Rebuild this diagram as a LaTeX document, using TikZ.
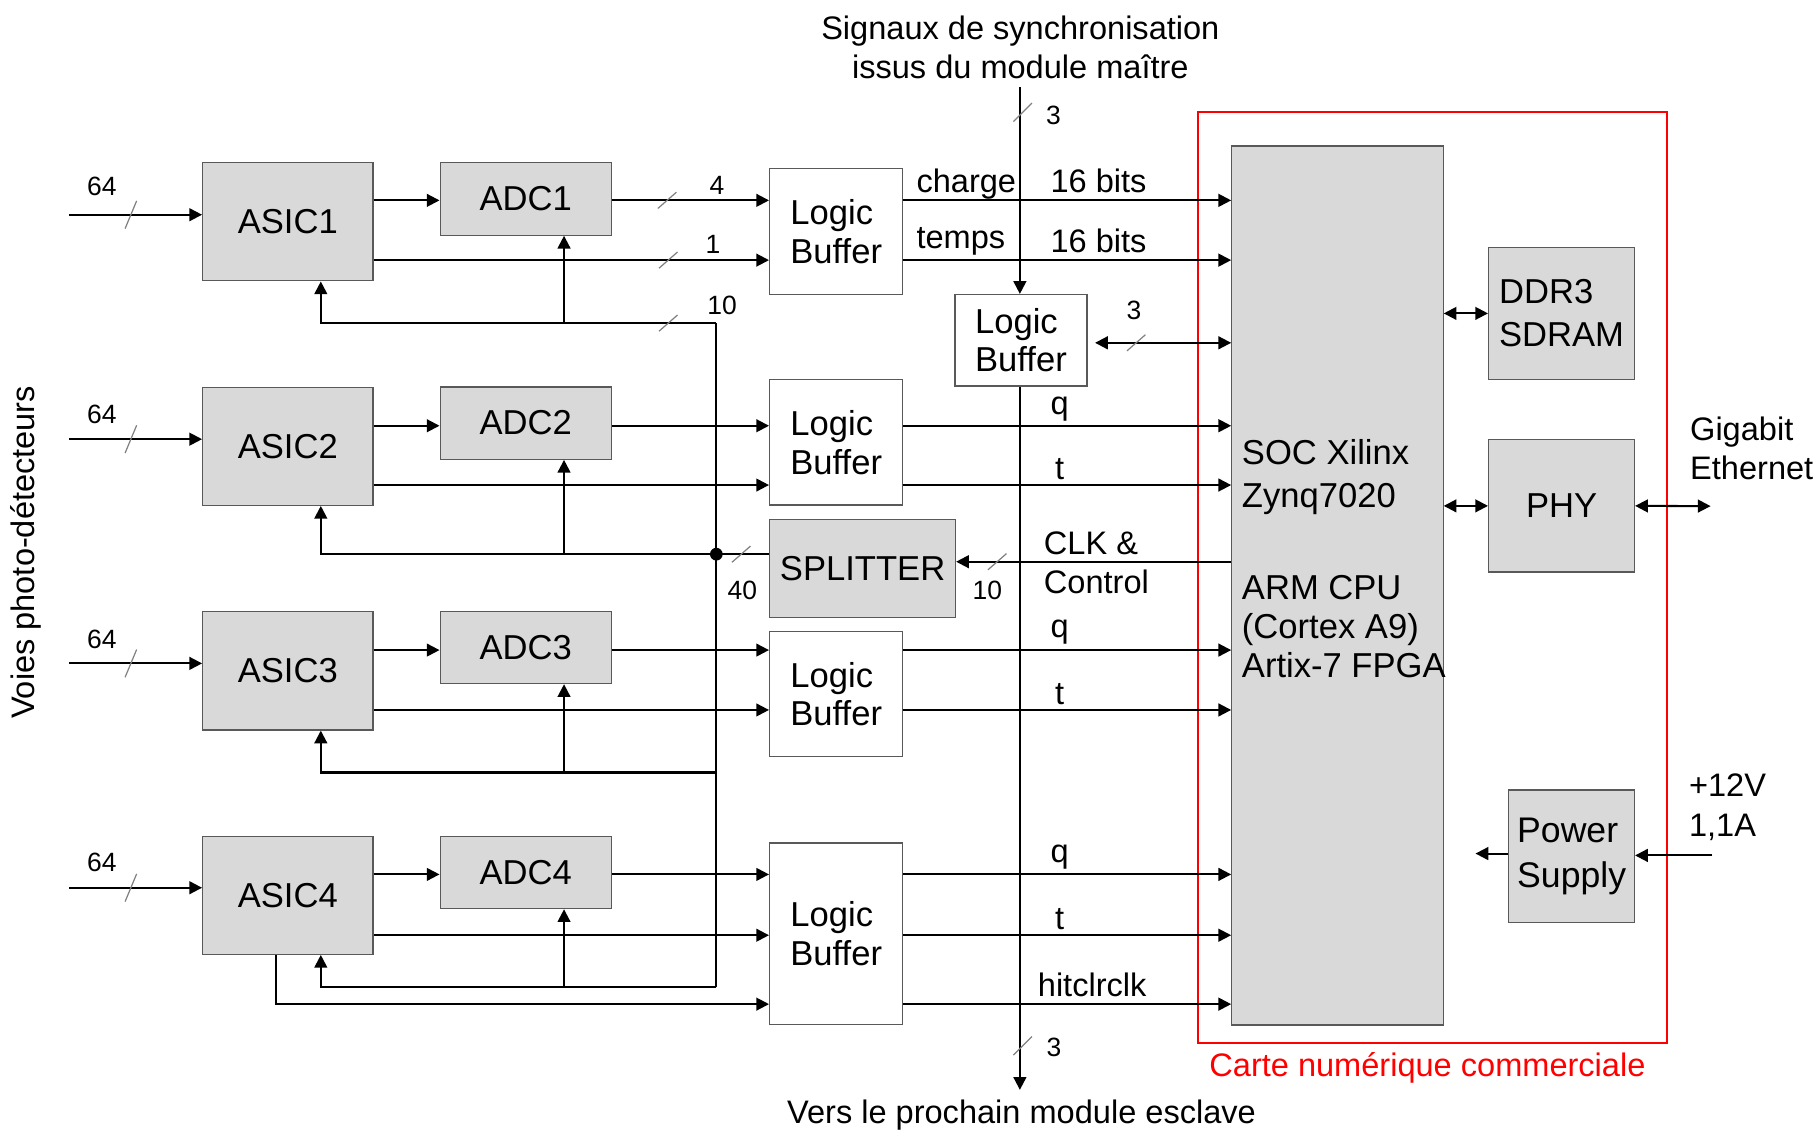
\documentclass[tikz,border=0pt]{standalone}
\usepackage{fontspec}
\setmainfont{Liberation Sans}
\usetikzlibrary{arrows.meta}
\definecolor{blockgray}{HTML}{D9D9D9}

\begin{document}
\begin{tikzpicture}[
        x=0.02cm, y=0.02cm,
        block/.style={rectangle, draw=black!65, line width=0.6pt, inner sep=0pt, font=\fontsize{17}{19}\selectfont},
        grayblock/.style={block, fill=blockgray},
        asic/.style={grayblock, minimum width=2.94cm, minimum height=2.04cm},
        adc/.style={grayblock, minimum width=2.96cm, minimum height=1.25cm},
        buffer/.style={block, fill=white, align=left, minimum width=2.3cm},
        boxtext/.style={inner sep=0pt, align=left, font=\fontsize{17}{19.3}\selectfont},
        lbl/.style={inner sep=0pt, font=\fontsize{16}{19.3}\selectfont},
        num/.style={inner sep=0pt, font=\fontsize{13}{15}\selectfont},
        wire/.style={line width=1pt},
        arrow/.style={wire, -{Triangle[length=0.22cm, width=0.22cm]}},
        biarrow/.style={wire, {Triangle[length=0.22cm, width=0.22cm]}-{Triangle[length=0.22cm, width=0.22cm]}},
        slash/.style={draw=black!50, line width=0.6pt}
    ]
        \useasboundingbox (0,0) rectangle (1568,-976);

        % Commercial board
        \node[draw=red, line width=1pt, inner sep=0pt, minimum width=8.1cm, minimum height=16.08cm] (board) at (1236.5,-499) {};
        \node[lbl, text=red] (boardlbl) at (1232.5,-922) {Carte numérique commerciale};

        % Nodes
        \node[asic] (ASIC1) at (248.5,-191.5) {ASIC1};
        \node[asic] (ASIC2) at (248.5,-385.3) {ASIC2};
        \node[asic] (ASIC3) at (248.5,-579.3) {ASIC3};
        \node[asic] (ASIC4) at (248.5,-773) {ASIC4};

        \node[adc] (ADC1) at (454,-171.8) {ADC1};
        \node[adc] (ADC2) at (454,-365.3) {ADC2};
        \node[adc] (ADC3) at (454,-559) {ADC3};
        \node[adc] (ADC4) at (454,-753.3) {ADC4};

        \node[buffer, minimum height=2.18cm] (LB1) at (722,-199.8) {Logic\\Buffer};
        \node[buffer, minimum height=2.16cm] (LB2) at (722,-382) {Logic\\Buffer};
        \node[buffer, minimum height=2.16cm] (LB3) at (722,-599.2) {Logic\\Buffer};
        \node[buffer, minimum height=3.14cm] (LB4) at (722,-806.4) {Logic\\Buffer};
        \node[buffer, minimum width=2.28cm, minimum height=1.58cm] (LBsync) at (881.5,-293.8) {Logic\\Buffer};
        \node[grayblock, minimum width=3.21cm, minimum height=1.7cm] (SPLIT) at (744.8,-491) {SPLITTER};

        \node[grayblock, minimum width=3.65cm, minimum height=15.18cm] (SOC) at (1154.8,-505.5) {};
        \node[boxtext, anchor=west, font=\fontsize{17}{21.3}\selectfont] (socname) at (1072,-412) {SOC Xilinx\\Zynq7020};
        \node[boxtext, anchor=west] (socarch) at (1072,-541) {ARM CPU\\(Cortex A9)\\Artix-7 FPGA};
        \node[grayblock, align=left, font=\fontsize{17}{21}\selectfont, minimum width=2.52cm, minimum height=2.28cm] (DDR) at (1348.3,-270.6) {DDR3\\SDRAM};
        \node[grayblock, minimum width=2.52cm, minimum height=2.28cm] (PHY) at (1348.3,-436.8) {PHY};
        \node[grayblock, align=left, font=\fontsize{17.5}{22}\selectfont, minimum width=2.17cm, minimum height=2.29cm] (PSU) at (1357,-739.4) {Power\\Supply};

        % Texts
        \node[lbl, align=center] (syncin) at (881,-41) {Signaux de synchronisation\\issus du module maître};
        \node[lbl] (syncout) at (882,-963) {Vers le prochain module esclave};
        \node[lbl, rotate=90] (voies) at (22,-477) {Voies photo-détecteurs};
        \node[lbl, anchor=west, align=left] (giga) at (1459,-387) {Gigabit\\Ethernet};
        \node[lbl, anchor=west, align=left] (supply) at (1458,-697) {+12V\\1,1A};
        \node[lbl, anchor=west, align=left] (clklbl) at (901,-486) {CLK \&\\Control};

        % Levels and taps
        \coordinate (in1) at (60,-185.4);
        \coordinate (in2) at (60,-379.2);
        \coordinate (in3) at (60,-572.8);
        \coordinate (in4) at (60,-766.5);
        \coordinate (q1) at (0,-173);
        \coordinate (q2) at (0,-367.6);
        \coordinate (q3) at (0,-561.3);
        \coordinate (q4) at (0,-755);
        \coordinate (t1) at (0,-224.6);
        \coordinate (t2) at (0,-418.8);
        \coordinate (t3) at (0,-613);
        \coordinate (t4) at (0,-807.5);
        \coordinate (hit) at (0,-867);
        \coordinate (ctl) at (0,-296);
        \coordinate (clk) at (0,-485);
        \coordinate (bus1) at (618.5,-279);
        \coordinate (bus2) at (618.5,-478.5);
        \coordinate (bus3) at (618.5,-667);
        \coordinate (bus4) at (618.5,-852);
        \coordinate (asictap) at (277,0);
        \coordinate (adctap) at (487,0);
        \coordinate (hittap) at (238,0);
        \coordinate (synctop) at (880.6,-75.4);
        \coordinate (syncbot) at (880.6,-941);
        \coordinate (eth) at (1477,-437);
        \coordinate (pwrin) at (1478.4,-738.6);
        \coordinate (pwrout) at (1274,-737);

        % Arrows
        \draw[arrow] (in1) -- (in1 -| ASIC1.west);
        \draw[arrow] (in2) -- (in2 -| ASIC2.west);
        \draw[arrow] (in3) -- (in3 -| ASIC3.west);
        \draw[arrow] (in4) -- (in4 -| ASIC4.west);

        \draw[arrow] (ASIC1.east |- q1) -- (ADC1.west |- q1);
        \draw[arrow] (ASIC2.east |- q2) -- (ADC2.west |- q2);
        \draw[arrow] (ASIC3.east |- q3) -- (ADC3.west |- q3);
        \draw[arrow] (ASIC4.east |- q4) -- (ADC4.west |- q4);

        \draw[arrow] (ADC1.east |- q1) -- (LB1.west |- q1);
        \draw[arrow] (ADC2.east |- q2) -- (LB2.west |- q2);
        \draw[arrow] (ADC3.east |- q3) -- (LB3.west |- q3);
        \draw[arrow] (ADC4.east |- q4) -- (LB4.west |- q4);

        \draw[arrow] (ASIC1.east |- t1) -- (LB1.west |- t1);
        \draw[arrow] (ASIC2.east |- t2) -- (LB2.west |- t2);
        \draw[arrow] (ASIC3.east |- t3) -- (LB3.west |- t3);
        \draw[arrow] (ASIC4.east |- t4) -- (LB4.west |- t4);
        \draw[arrow] (ASIC4.south -| hittap) |- (LB4.west |- hit);

        \draw[arrow] (LB1.east |- q1) -- (SOC.west |- q1);
        \draw[arrow] (LB1.east |- t1) -- (SOC.west |- t1);
        \draw[arrow] (LB2.east |- q2) -- (SOC.west |- q2);
        \draw[arrow] (LB2.east |- t2) -- (SOC.west |- t2);
        \draw[arrow] (LB3.east |- q3) -- (SOC.west |- q3);
        \draw[arrow] (LB3.east |- t3) -- (SOC.west |- t3);
        \draw[arrow] (LB4.east |- q4) -- (SOC.west |- q4);
        \draw[arrow] (LB4.east |- t4) -- (SOC.west |- t4);
        \draw[arrow] (LB4.east |- hit) -- (SOC.west |- hit);

        % Control bus
        \draw[wire] (bus1) -- (bus4);
        \draw[wire] (SPLIT.west |- bus2) -- (bus2);
        \fill (bus2) circle (0.11cm);
        \draw[arrow] (bus1) -| (ASIC1.south -| asictap);
        \draw[arrow] (bus2) -| (ASIC2.south -| asictap);
        \draw[arrow] (bus3) -| (ASIC3.south -| asictap);
        \draw[arrow] (bus4) -| (ASIC4.south -| asictap);
        \draw[arrow] (bus1 -| adctap) -- (ADC1.south -| adctap);
        \draw[arrow] (bus2 -| adctap) -- (ADC2.south -| adctap);
        \draw[arrow] (bus3 -| adctap) -- (ADC3.south -| adctap);
        \draw[arrow] (bus4 -| adctap) -- (ADC4.south -| adctap);
        \draw[arrow] (SOC.west |- clk) -- (SPLIT.east |- clk);

        % Synchronisation
        \draw[arrow] (synctop) -- (synctop |- LBsync.north);
        \draw[arrow] (synctop |- LBsync.south) -- (syncbot);
        \draw[biarrow, shorten <=0.13cm] (LBsync.east |- ctl) -- (SOC.west |- ctl);

        % Board side
        \draw[biarrow] (SOC.east |- DDR.west) -- (DDR.west);
        \draw[biarrow] (SOC.east |- PHY.west) -- (PHY.west);
        \draw[biarrow] (PHY.east) -- (eth);
        \draw[arrow] (pwrin) -- (PSU.east |- pwrin);
        \draw[arrow] (PSU.west |- pwrout) -- (pwrout);

        % Bus widths
        \draw[slash] (113,-185.4) +(-5,-12) -- +(5,12);
        \draw[slash] (113,-379.2) +(-5,-12) -- +(5,12);
        \draw[slash] (113,-572.8) +(-5,-12) -- +(5,12);
        \draw[slash] (113,-766.5) +(-5,-12) -- +(5,12);
        \draw[slash] (576,-173) +(-8,-7) -- +(8,7);
        \draw[slash] (577,-224.6) +(-8,-7) -- +(8,7);
        \draw[slash] (577,-279) +(-8,-7) -- +(8,7);
        \draw[slash] (640,-478.5) +(-8,-7) -- +(8,7);
        \draw[slash] (861,-485) +(-8,-7) -- +(8,7);
        \draw[slash] (883,-97) +(-8,-8) -- +(8,8);
        \draw[slash] (981,-296) +(-8,-7) -- +(8,7);
        \draw[slash] (883,-903) +(-8,-8) -- +(8,8);

        \node[num] (w1) at (88,-161) {64};
        \node[num] (w2) at (88,-358) {64};
        \node[num] (w3) at (88,-552) {64};
        \node[num] (w4) at (88,-745) {64};
        \node[num] (wadc) at (619,-160) {4};
        \node[num] (wtrig) at (615.5,-210.7) {1};
        \node[num] (wctl) at (623.5,-263.4) {10};
        \node[num] (wsplit) at (641,-509.5) {40};
        \node[num] (wclk) at (852.5,-509.5) {10};
        \node[num] (wsyncin) at (909.5,-99.3) {3};
        \node[num] (wsync) at (979,-267.7) {3};
        \node[num] (wsyncout) at (910,-904) {3};

        % Signal names
        \node[lbl, anchor=south west] (chg) at (791,-172) {charge};
        \node[lbl, anchor=south west] (tmp) at (791,-221) {temps};
        \node[lbl, anchor=south] (bits1) at (948.5,-167) {16 bits};
        \node[lbl, anchor=south] (bits2) at (948.5,-218.5) {16 bits};
        \node[lbl, anchor=south] (lq2) at (915,-364) {q};
        \node[lbl, anchor=south] (lt2) at (915,-414.5) {t};
        \node[lbl, anchor=south] (lq3) at (915,-557) {q};
        \node[lbl, anchor=south] (lt3) at (915,-608.5) {t};
        \node[lbl, anchor=south] (lq4) at (915,-751) {q};
        \node[lbl, anchor=south] (lt4) at (915,-803) {t};
        \node[lbl, anchor=south] (lhit) at (943,-861) {hitclrclk};
    \end{tikzpicture}
\end{document}
